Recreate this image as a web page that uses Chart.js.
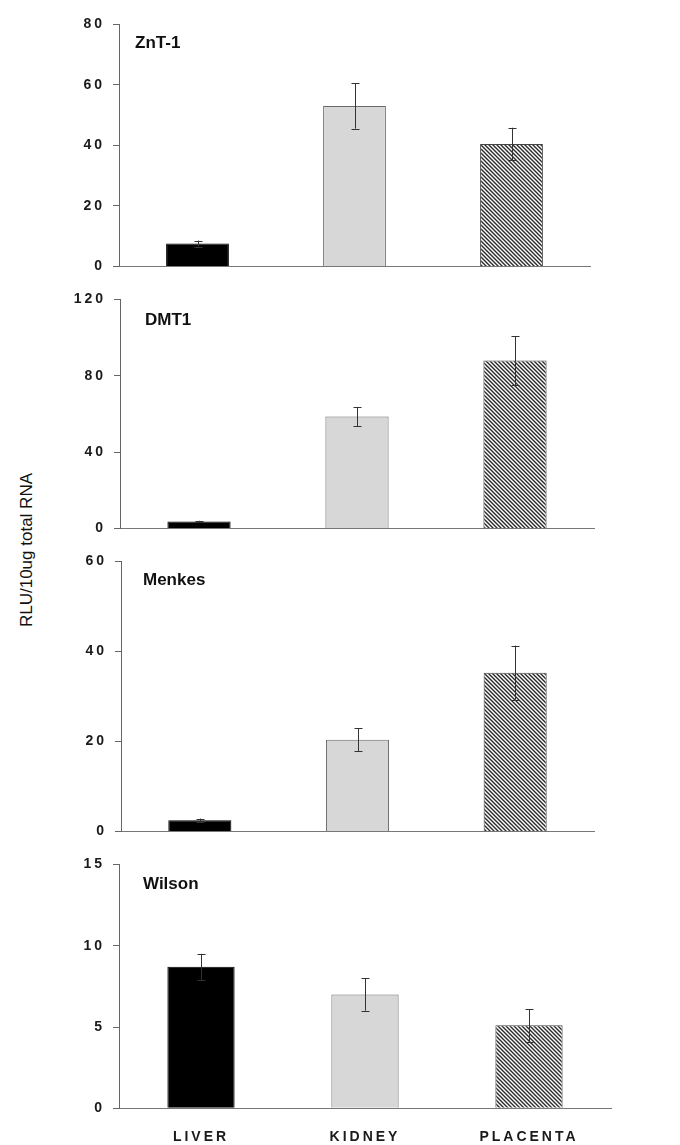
<!DOCTYPE html>
<html>
<head>
<meta charset="utf-8">
<script src="https://cdn.jsdelivr.net/npm/chart.js@4.4.0/dist/chart.umd.min.js"></script>
<style>
  html, body { margin: 0; padding: 0; background: #fff; }
  #wrap { position: relative; width: 680px; height: 1145px; overflow: hidden; }
  #wrap canvas { position: absolute; left: 0; }
  #ytitle {
    position: absolute; left: 27px; top: 550px;
    transform: translate(-50%, -50%) rotate(-90deg);
    font: 17px "Liberation Sans", Arial, sans-serif; color: #111; white-space: nowrap;
  }
</style>
</head>
<body>
<div id="wrap">
  <div id="ytitle">RLU/10ug total RNA</div>
</div>
<script>
// tissues and the four transporter panels
const categories = ['LIVER', 'KIDNEY', 'PLACENTA'];
const panelNames = ['ZnT-1', 'DMT1', 'Menkes', 'Wilson'];

// mean and error per tissue
const zntMeans = [7.6, 53.0, 40.4];
const zntErrors = [1.0, 7.5, 5.4];
const dmtMeans = [3.7, 58.7, 88.0];
const dmtErrors = [0.4, 5.0, 12.8];
const menkesMeans = [2.5, 20.4, 35.3];
const menkesErrors = [0.4, 2.6, 6.0];
const wilsonMeans = [8.7, 7.0, 5.1];
const wilsonErrors = [0.8, 1.0, 1.0];

// y axis range per panel
const yMax = [80, 120, 60, 15];
const yStep = [20, 40, 20, 5];

const means = [zntMeans, dmtMeans, menkesMeans, wilsonMeans];
const errors = [zntErrors, dmtErrors, menkesErrors, wilsonErrors];

// where each panel sits on the page
const frames = [
  { top: 0,   height: 283, axisX: 119, right: 590, plotTop: 24,   plotBottom: 272,   nameDx: 16, nameDy: 19 },
  { top: 283, height: 262, axisX: 120, right: 594, plotTop: 11,   plotBottom: 249,   nameDx: 25, nameDy: 21 },
  { top: 545, height: 303, axisX: 121, right: 594, plotTop: 12.5, plotBottom: 290,   nameDx: 22, nameDy: 18.5 },
  { top: 848, height: 297, axisX: 119, right: 611, plotTop: 12.7, plotBottom: 260.3, nameDx: 24, nameDy: 20 }
];

const FONT = '"Liberation Sans", Arial, sans-serif';

// diagonal hatch for the placenta bars
function makeHatch() {
  const c = document.createElement('canvas');
  c.width = 4; c.height = 4;
  const g = c.getContext('2d');
  g.fillStyle = '#fff';
  g.fillRect(0, 0, 4, 4);
  g.strokeStyle = '#2a2a2a';
  g.lineWidth = 1.4;
  g.beginPath();
  g.moveTo(-1, -1); g.lineTo(5, 5);
  g.moveTo(-1, 3); g.lineTo(1, 5);
  g.moveTo(3, -1); g.lineTo(5, 1);
  g.stroke();
  return g.createPattern(c, 'repeat');
}
const hatch = makeHatch();

const spacingPlugin = {
  id: 'spacing',
  beforeDraw(chart) { chart.ctx.letterSpacing = '3px'; }
};

const errorBars = {
  id: 'errorBars',
  afterDatasetsDraw(chart) {
    const ds = chart.data.datasets[0];
    const x = chart.scales.x, y = chart.scales.y;
    const ctx = chart.ctx;
    ctx.save();
    ctx.strokeStyle = '#333';
    ctx.lineWidth = 1;
    ds.data.forEach((v, i) => {
      const px = Math.round(x.getPixelForValue(i)) + 0.5;
      const hi = y.getPixelForValue(v + ds.errors[i]);
      const lo = y.getPixelForValue(v - ds.errors[i]);
      ctx.beginPath();
      ctx.moveTo(px, hi); ctx.lineTo(px, lo);
      ctx.moveTo(px - 4, Math.round(hi) + 0.5); ctx.lineTo(px + 4, Math.round(hi) + 0.5);
      ctx.moveTo(px - 4, Math.round(lo) + 0.5); ctx.lineTo(px + 4, Math.round(lo) + 0.5);
      ctx.stroke();
    });
    ctx.restore();
  }
};

const panelLabel = {
  id: 'panelLabel',
  afterDraw(chart, args, opts) {
    const ctx = chart.ctx;
    ctx.save();
    ctx.letterSpacing = '0px';
    ctx.font = 'bold 17px ' + FONT;
    ctx.fillStyle = '#111';
    ctx.textBaseline = 'middle';
    ctx.fillText(opts.text, chart.chartArea.left + opts.dx, chart.chartArea.top + opts.dy);
    ctx.restore();
  }
};

const wrap = document.getElementById('wrap');

frames.forEach((f, p) => {
  const canvas = document.createElement('canvas');
  canvas.width = 680; canvas.height = f.height;
  canvas.style.top = f.top + 'px';
  canvas.style.width = '680px'; canvas.style.height = f.height + 'px';
  wrap.appendChild(canvas);
  const last = p === frames.length - 1;

  new Chart(canvas, {
    type: 'bar',
    data: {
      labels: categories,
      datasets: [{
        data: means[p],
        errors: errors[p],
        backgroundColor: ['#000', '#d7d7d7', hatch],
        borderColor: ['#000', '#6a6a6a', '#444'],
        borderWidth: 1,
        barPercentage: last ? 0.41 : 0.4,
        categoryPercentage: 1
      }]
    },
    options: {
      responsive: false,
      animation: false,
      layout: { padding: { left: 0, right: 680 - f.right, top: f.plotTop, bottom: 0 } },
      plugins: {
        legend: { display: false },
        tooltip: { enabled: false },
        panelLabel: { text: panelNames[p], dx: f.nameDx, dy: f.nameDy }
      },
      scales: {
        x: {
          offset: true,
          grid: { display: false, drawTicks: false },
          border: { display: true, color: '#777', width: 1 },
          ticks: {
            display: last,
            padding: 20,
            color: '#1a1a1a',
            font: { family: FONT, size: 14, weight: 'bold' }
          },
          afterFit(s) { s.height = f.height - f.plotBottom; }
        },
        y: {
          min: 0,
          max: yMax[p],
          grid: { display: true, drawOnChartArea: false, drawTicks: true, tickLength: 6, color: '#666' },
          border: { display: true, color: '#666', width: 1 },
          ticks: {
            stepSize: yStep[p],
            padding: 8,
            color: '#1a1a1a',
            font: { family: FONT, size: 14, weight: 'bold' }
          },
          afterFit(s) { s.width = f.axisX; }
        }
      }
    },
    plugins: [spacingPlugin, errorBars, panelLabel]
  });
});
</script>
</body>
</html>
